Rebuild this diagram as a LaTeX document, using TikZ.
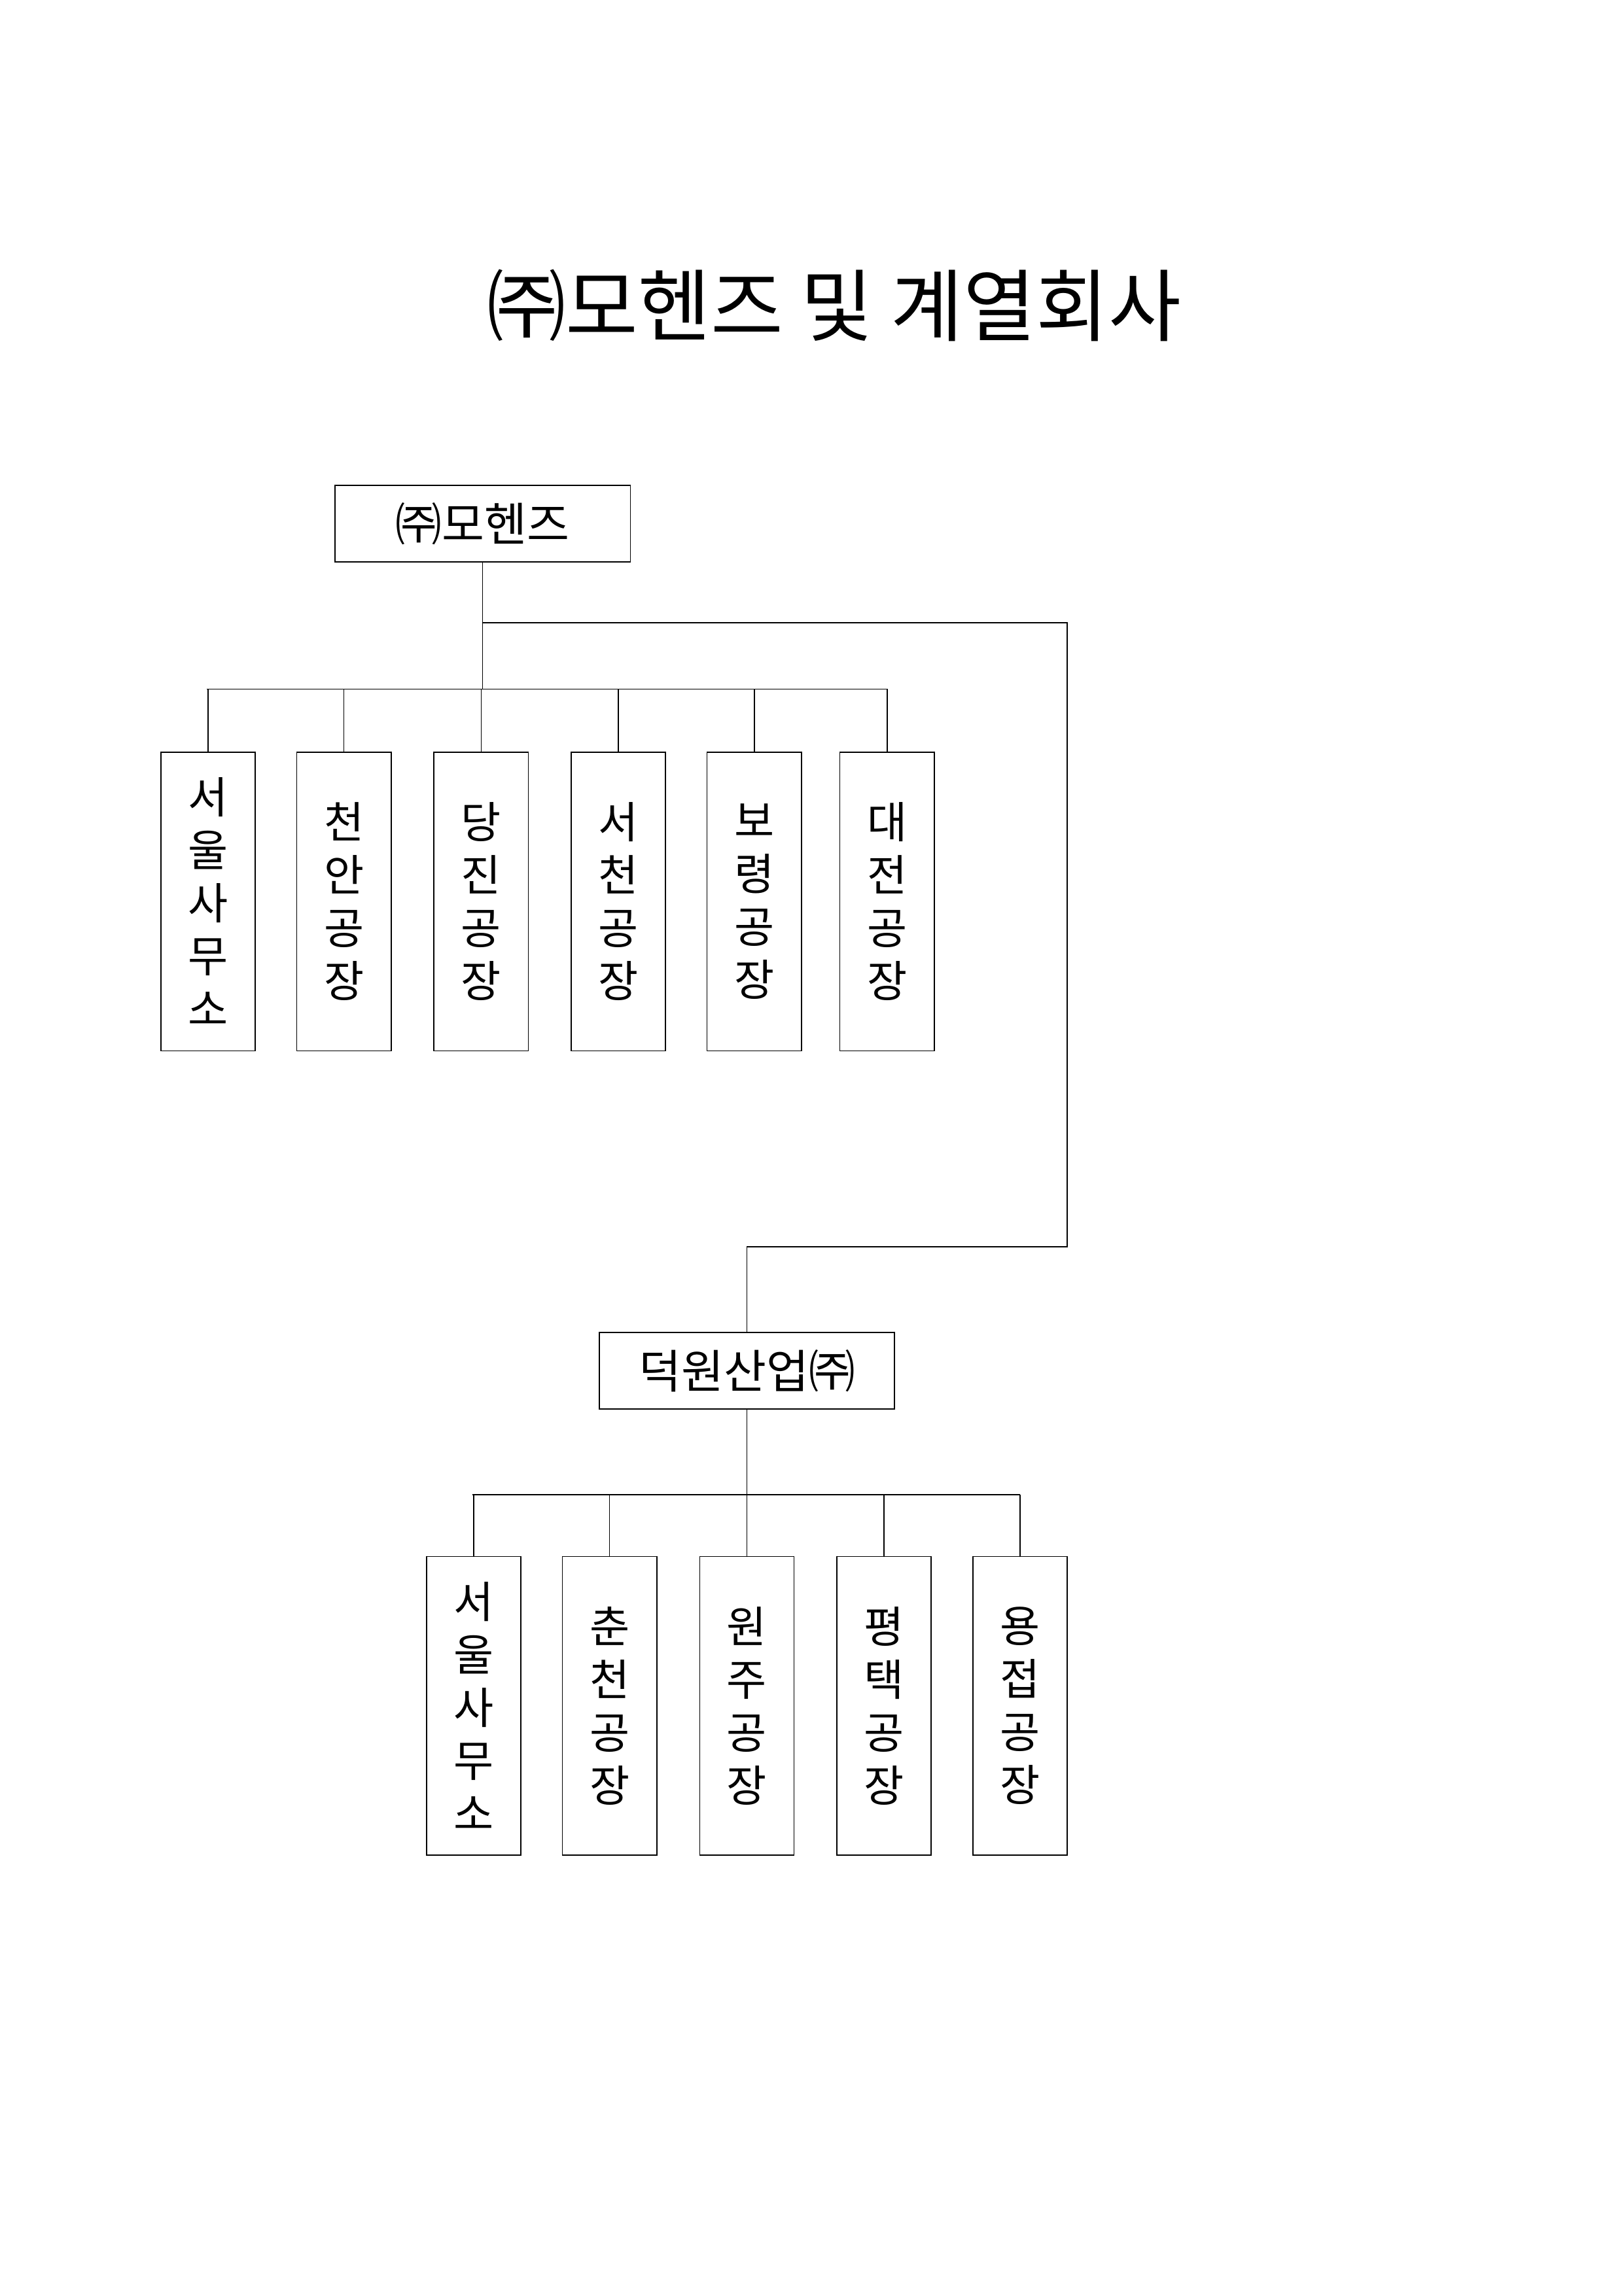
\documentclass[tikz,border=0pt]{standalone}
\usepackage{fontspec}
\newfontfamily\kr{Noto Sans CJK KR}
\usetikzlibrary{positioning}

\begin{document}
\begin{tikzpicture}[
  x=0.01909cm, y=-0.01909cm,
  hbox/.style={
    rectangle,
    draw=black, thin,
    minimum width=3.82cm, minimum height=0.99cm,
    font=\kr\fontsize{17}{17}\selectfont
  },
  vbox/.style={
    rectangle,
    draw=black, thin,
    minimum width=1.22cm, minimum height=3.86cm,
    align=center,
    font=\kr\fontsize{16}{19.5}\selectfont
  },
  wire/.style={draw=black, thin}
]
\useasboundingbox (0,0) rectangle (1100,1556);

% title
\node (title) at (565,207) {\kr\fontsize{29}{29}\selectfont ㈜모헨즈 및 계열회사};

% parent company
\node (mo) [hbox] at (327,355) {㈜모헨즈};
\coordinate (busA) at (327,467);
\coordinate (split) at (327,422);
\draw[wire] (mo.south) -- (busA);
\draw[wire] (140,467) -- (601,467);

\foreach \x/\name/\txt in {141/ma/서\\울\\사\\무\\소, 233/mb/천\\안\\공\\장,
  326/mc/당\\진\\공\\장, 419/md/서\\천\\공\\장, 511/me/보\\령\\공\\장,
  601/mf/대\\전\\공\\장}{
  \node (\name) [vbox] at (\x,611) {\txt};
  \draw[wire] (\name.north) -- (\x,467);
}

% affiliate
\node (dw) [hbox] at (506,929) {덕원산업㈜};
\draw[wire] (split) -| (723,845) -| (dw.north);
\coordinate (busB) at (506,1013);
\draw[wire] (dw.south) -- (busB);
\draw[wire] (320,1013) -- (691,1013);

\foreach \x/\name/\txt in {321/da/서\\울\\사\\무\\소, 413/db/춘\\천\\공\\장,
  506/dc/원\\주\\공\\장, 599/dd/평\\택\\공\\장, 691/de/용\\접\\공\\장}{
  \node (\name) [vbox] at (\x,1156) {\txt};
  \draw[wire] (\name.north) -- (\x,1013);
}
\end{tikzpicture}
\end{document}
